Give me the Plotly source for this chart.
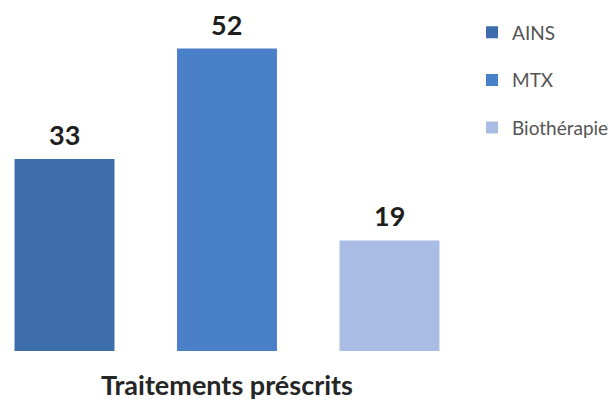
import plotly.graph_objects as go

# Data
series = ["AINS", "MTX", "Biothérapie"]
counts = [33, 52, 19]
category_label = "Traitements préscrits"

# Styling
colors = ["#3d6dab", "#4a80c7", "#a9bce4"]
FONT = "Lato"

fig = go.Figure()
for name, value, color in zip(series, counts, colors):
    fig.add_trace(
        go.Bar(
            x=[name],
            y=[value],
            name=name,
            legendgroup=name,
            width=0.615,
            marker=dict(color=color, line=dict(width=0)),
            hoverinfo="skip",
        )
    )
    fig.add_annotation(
        x=name,
        y=value,
        text=f"<b>{value}</b>",
        showarrow=False,
        yanchor="bottom",
        yshift=6,
        font=dict(family=FONT, size=27, color="#1e1e1e"),
    )

fig.update_layout(
    width=615,
    height=401,
    barmode="overlay",
    paper_bgcolor="white",
    plot_bgcolor="white",
    margin=dict(l=0, r=0, t=0, b=48),
    showlegend=True,
    legend=dict(
        x=0.7675,
        y=0.962,
        xanchor="left",
        yanchor="top",
        traceorder="grouped",
        tracegroupgap=20,
        font=dict(family=FONT, size=19, color="#555555"),
        bgcolor="rgba(0,0,0,0)",
    ),
    xaxis=dict(
        type="category",
        categoryorder="array",
        categoryarray=series,
        range=[-0.397, 3.388],
        showgrid=False,
        zeroline=False,
        showline=False,
        ticks="",
        tickvals=[series[1]],
        ticktext=[f"<b>{category_label}</b>"],
        ticklabelstandoff=16,
        tickfont=dict(family=FONT, size=27, color="#262626"),
    ),
    yaxis=dict(range=[0, 60.34], visible=False),
)

fig.write_html("out.html")
